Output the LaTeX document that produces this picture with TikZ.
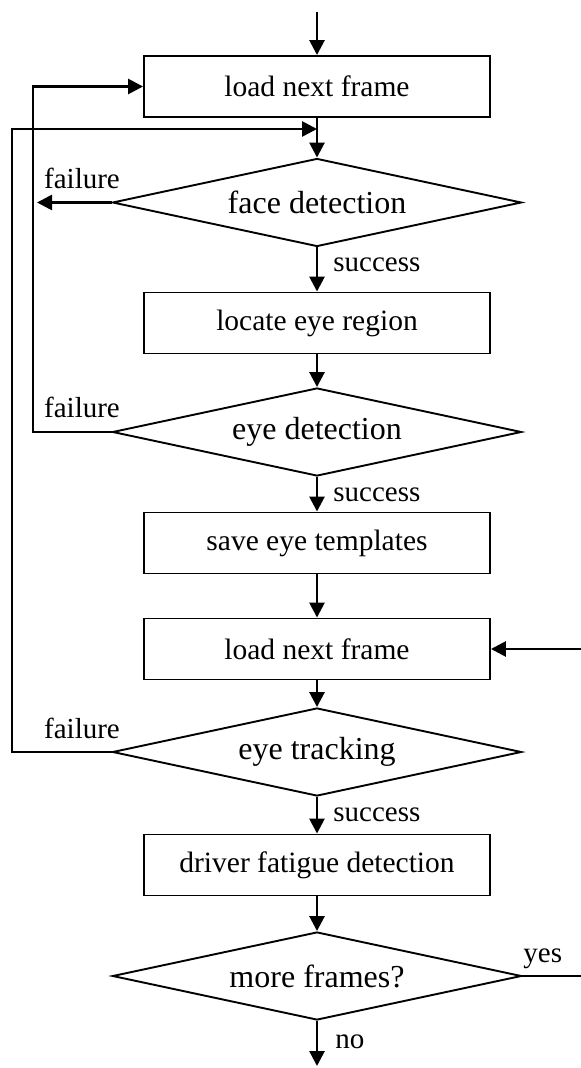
\documentclass[tikz,border=0pt]{standalone}
\usepackage{fontspec}
\setmainfont{Liberation Serif}
\usetikzlibrary{positioning,arrows.meta,shapes.geometric}
\tikzset{
  proc/.style={rectangle, draw, line width=0.95pt, minimum width=173pt,
               minimum height=30.5pt, inner sep=0pt, font=\fontsize{14.75}{17}\selectfont},
  dec/.style={diamond, draw, line width=0.95pt, minimum width=204.5pt,
              minimum height=44pt, aspect=4.6, inner sep=0pt, font=\fontsize{16}{18}\selectfont},
  flow/.style={line width=1.35pt, -{Triangle[length=7.5pt,width=7.5pt]}},
  lab/.style={font=\fontsize{14.5}{16}\selectfont, inner sep=0pt},
}
\begin{document}
\begin{tikzpicture}[x=0.5pt,y=-0.5pt]
  \useasboundingbox (0,0) rectangle (581,1068);
  \node[proc] (load1) at (317,86.5) {load next frame};
  \node[dec] (face) at (317,202.5) {face detection};
  \node[proc] (region) at (317,323) {locate eye region};
  \node[dec] (eyedet) at (317,432) {eye detection};
  \node[proc] (save) at (317,543) {save eye templates};
  \node[proc] (load2) at (317,649) {load next frame};
  \node[dec] (track) at (317,752) {eye tracking};
  \node[proc] (fatigue) at (317,865) {driver fatigue detection};
  \node[dec] (more) at (317,976) {more frames?};
  \coordinate (start) at (317,12);
  \coordinate (stop) at (317,1066);
  \coordinate (facefail) at (37,202.5);
  \coordinate (join) at (317,129);
  \coordinate (inner) at (33,0);
  \coordinate (outer) at (12,0);
  \coordinate (back) at (584,0);
  % main line
  \draw[flow] (start) -- (load1);
  \draw[flow] (load1) -- (face);
  \draw[flow] (face) -- (region);
  \draw[flow] (region) -- (eyedet);
  \draw[flow] (eyedet) -- (save);
  \draw[flow] (save) -- (load2);
  \draw[flow] (load2) -- (track);
  \draw[flow] (track) -- (fatigue);
  \draw[flow] (fatigue) -- (more);
  \draw[flow] (more) -- (stop);
  % loops back
  \draw[flow] (face.west) -- (facefail);
  \draw[flow] (eyedet.west) -- (eyedet.west -| inner) |- (load1.west);
  \draw[flow] (track.west) -- (track.west -| outer) |- (join);
  \draw[flow] (more.east) -- (more.east -| back) |- (load2.east);
  \node[lab, anchor=base] (fail1) at (82,189) {failure};
  \node[lab, anchor=base] (fail2) at (82,418) {failure};
  \node[lab, anchor=base] (fail3) at (82,738) {failure};
  \node[lab, anchor=base west] (succ1) at (333,272) {success};
  \node[lab, anchor=base west] (succ2) at (333,501) {success};
  \node[lab, anchor=base west] (succ3) at (333,821) {success};
  \node[lab, anchor=base west] (yes) at (523,962) {yes};
  \node[lab, anchor=base west] (no) at (335,1048) {no};
\end{tikzpicture}
\end{document}
